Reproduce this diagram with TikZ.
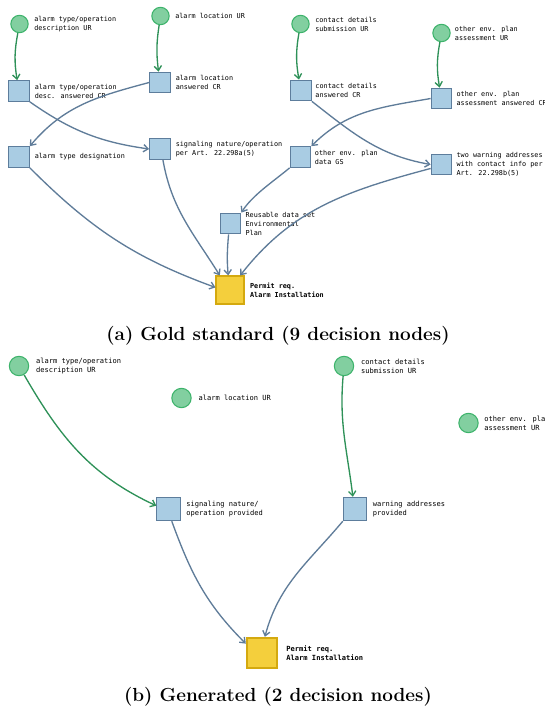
\documentclass[tikz,border=0pt]{standalone}
\usepackage{fontspec}
\newfontfamily\graphmono{DejaVu Sans Mono}
\usetikzlibrary{positioning,arrows.meta}

\definecolor{urfill}{HTML}{82CFA0}
\definecolor{urline}{HTML}{3DB36B}
\definecolor{urarrowc}{HTML}{2E9158}
\definecolor{crfill}{HTML}{A9CCE3}
\definecolor{crline}{HTML}{5D7D9C}
\definecolor{crarrowc}{HTML}{5F7C99}
\definecolor{goalfill}{HTML}{F4CF3C}
\definecolor{goalline}{HTML}{D4A90F}

\begin{document}
\begin{tikzpicture}[x=0.75pt,y=-0.75pt,
  ur/.style={circle,draw=urline,fill=urfill,line width=0.8pt,minimum size=13pt,inner sep=0pt},
  cr/.style={rectangle,draw=crline,fill=crfill,line width=0.8pt,minimum size=15.5pt,inner sep=0pt},
  goal/.style={rectangle,draw=goalline,fill=goalfill,line width=1.3pt,minimum size=20.5pt,inner sep=0pt},
  txt/.style={font=\graphmono\fontsize{5.1}{6.75}\selectfont,align=left,inner sep=0pt},
  txtb/.style={font=\graphmono\fontsize{5.3}{6.75}\selectfont,align=left,inner sep=0pt},
  urarrow/.style={-{Straight Barb[length=3.5pt,width=5.5pt]},draw=urarrowc,line width=1pt},
  crarrow/.style={-{Straight Barb[length=3.5pt,width=5.5pt]},draw=crarrowc,line width=1pt},
  caption/.style={font=\bfseries\fontsize{14.2}{16}\selectfont,inner sep=0pt}]
\useasboundingbox (0,0) rectangle (544,713);

% (a) gold standard
\node[ur] (c1) at (19.5,24) {};
\node[ur] (c2) at (160.5,16) {};
\node[ur] (c3) at (300.5,24) {};
\node[ur] (c4) at (441.5,33) {};
\node[cr] (s1) at (19,91) {};
\node[cr] (s2) at (160,82.5) {};
\node[cr] (s3) at (301,90.5) {};
\node[cr] (s4) at (441.5,98.5) {};
\node[cr] (s5) at (19,157) {};
\node[cr] (s6) at (160,149) {};
\node[cr] (s7) at (300.5,157) {};
\node[cr] (s8) at (441.5,164.5) {};
\node[cr] (s9) at (230.5,223.5) {};
\node[goal] (g1) at (230,290) {};

\node[txt,right=4pt of c1] (c1t) {alarm type/operation\\description UR};
\node[txt,right=4pt of c2] (c2t) {alarm location UR};
\node[txt,right=4pt of c3] (c3t) {contact details\\submission UR};
\node[txt,right=3pt of c4] (c4t) {other env. plan\\assessment UR};
\node[txt,right=3.5pt of s1] (s1t) {alarm type/operation\\desc. answered CR};
\node[txt,right=3.5pt of s2] (s2t) {alarm location\\answered CR};
\node[txt,right=2.5pt of s3] (s3t) {contact details\\answered CR};
\node[txt,right=3pt of s4] (s4t) {other env. plan\\assessment answered CR};
\node[txt,right=3.5pt of s5] (s5t) {alarm type designation};
\node[txt,right=3.5pt of s6] (s6t) {signaling nature/operation\\per Art. 22.298a(5)};
\node[txt,right=2.5pt of s7] (s7t) {other env. plan\\data GS};
\node[txt,right=3pt of s8] (s8t) {two warning addresses\\with contact info per\\Art. 22.298b(5)};
\node[txt,right=3pt of s9] (s9t) {Reusable data set\\Environmental\\Plan};
\node[txt,font=\graphmono\bfseries\fontsize{5.1}{6.75}\selectfont,right=4pt of g1] (g1t) {Permit req.\\Alarm Installation};

\draw[urarrow] (c1) to[bend right=10] (s1);
\draw[urarrow] (c2) to[bend right=8] (s2);
\draw[urarrow] (c3) to[bend right=10] (s3);
\draw[urarrow] (c4) to[bend right=10] (s4);
\draw[crarrow] (s1.south east) to[out=-35,in=172] (s6.west);
\draw[crarrow] (s2.west) to[out=195,in=50] (s5.north east);
\draw[crarrow] (s3.south east) to[out=-38,in=170] (s8.west);
\draw[crarrow] (s4.west) to[out=190,in=45] (s7.north east);
\draw[crarrow] (s5.south east) to[out=-45,in=160] (g1.170);
\draw[crarrow] (s6.-75) to[out=-80,in=122] (g1.125);
\draw[crarrow] (s7.south west) to[out=-140,in=58,looseness=0.8] (s9.north east);
\draw[crarrow] (s9.-100) to[out=-95,in=95] (g1.97);
\draw[crarrow] (s8.-160) to[out=195,in=52] (g1.55);

\node[caption] (capa) at (278,336) {(a) Gold standard (9 decision nodes)};

% (b) generated
\node[ur,minimum size=14.5pt] (c1b) at (19,366) {};
\node[ur,minimum size=14.5pt] (c2b) at (181.5,398) {};
\node[ur,minimum size=14.5pt] (c3b) at (344,366) {};
\node[ur,minimum size=14.5pt] (c4b) at (468.5,423) {};
\node[cr,minimum size=17.5pt] (s1b) at (168.5,509) {};
\node[cr,minimum size=17.5pt] (s2b) at (355,509) {};
\node[goal,minimum size=23pt] (g2) at (262,653) {};

\node[txtb,right=5pt of c1b] (c1bt) {alarm type/operation\\description UR};
\node[txtb,right=5pt of c2b] (c2bt) {alarm location UR};
\node[txtb,right=5pt of c3b] (c3bt) {contact details\\submission UR};
\node[txtb,right=4pt of c4b] (c4bt) {other env. plan\\assessment UR};
\node[txtb,right=4pt of s1b] (s1bt) {signaling nature/\\operation provided};
\node[txtb,right=4pt of s2b] (s2bt) {warning addresses\\provided};
\node[txtb,font=\graphmono\bfseries\fontsize{5.3}{6.75}\selectfont,right=6pt of g2] (g2t) {Permit req.\\Alarm Installation};

\draw[urarrow] (c1b.-60) to[out=-60,in=155] (s1b.165);
\draw[urarrow] (c3b.-95) to[out=-95,in=97] (s2b.100);
\draw[crarrow] (s1b.-75) to[out=-70,in=135] (g2.150);
\draw[crarrow] (s2b.south west) to[out=-130,in=75] (g2.80);

\node[caption] (capb) at (278,697) {(b) Generated (2 decision nodes)};
\end{tikzpicture}
\end{document}
